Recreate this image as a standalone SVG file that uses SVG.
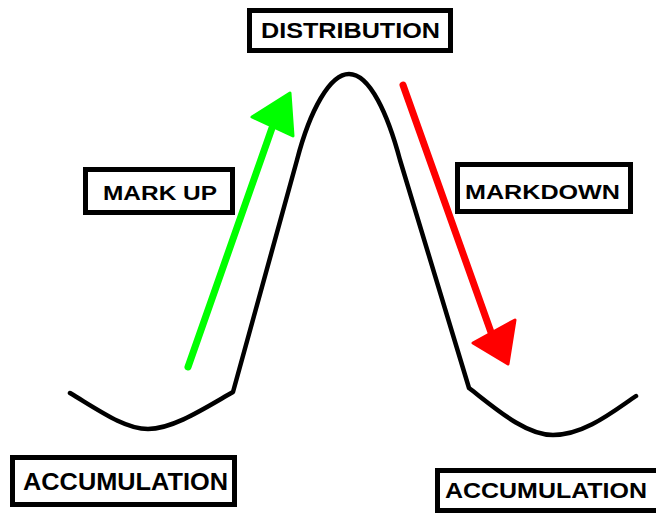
<svg xmlns="http://www.w3.org/2000/svg" width="656" height="516" viewBox="0 0 656 516">
<style>
.box{fill:#fff;stroke:#000;stroke-width:5}
.lbl{font-family:"Liberation Sans",Arial,sans-serif;font-weight:bold;fill:#000;text-anchor:start}
.curve{fill:none;stroke:#000;stroke-width:4.5;stroke-linejoin:round;stroke-linecap:round}
</style>
<rect width="656" height="516" fill="#fff"/>
<g id="connectors">
<path class="curve" d="M70,393 C100,411 125,429 148,429 C173,429 205,408 233,392 L297,160 C310,110 330,74 349,74 C370,74 388,115 400,160 L469,388 C495,408 525,435 553,435 C585,435 615,410 636,396"/>
<g id="markup-arrow">
<line x1="188" y1="367" x2="272" y2="128" stroke="#00ff00" stroke-width="7" stroke-linecap="round"/>
<polygon points="252,117 290,93 293,136" fill="#00ff00" stroke="#00ff00" stroke-width="3" stroke-linejoin="round"/>
</g>
<g id="markdown-arrow">
<line x1="403" y1="85" x2="492" y2="335" stroke="#ff0000" stroke-width="7" stroke-linecap="round"/>
<polygon points="473,343 515,320 508,364" fill="#ff0000" stroke="#ff0000" stroke-width="3" stroke-linejoin="round"/>
</g>
</g>
<g id="distribution">
<rect class="box" x="249.5" y="10.5" width="201" height="40"/>
<text class="lbl" x="261" y="38" font-size="22" textLength="179" lengthAdjust="spacingAndGlyphs">DISTRIBUTION</text>
</g>
<g id="markup">
<rect class="box" x="85.5" y="169.5" width="147" height="43"/>
<text class="lbl" x="103" y="200" font-size="21" textLength="114" lengthAdjust="spacingAndGlyphs">MARK UP</text>
</g>
<g id="markdown">
<rect class="box" x="457.5" y="164.5" width="173" height="47"/>
<text class="lbl" x="465" y="199" font-size="20" textLength="155" lengthAdjust="spacingAndGlyphs">MARKDOWN</text>
</g>
<g id="accumulation-left">
<rect class="box" x="12.5" y="457.5" width="222" height="47"/>
<text class="lbl" x="23" y="490" font-size="23" textLength="205" lengthAdjust="spacingAndGlyphs">ACCUMULATION</text>
</g>
<g id="accumulation-right">
<rect class="box" x="437.5" y="470.5" width="225" height="40"/>
<text class="lbl" x="445" y="498" font-size="22" textLength="202" lengthAdjust="spacingAndGlyphs">ACCUMULATION</text>
</g>
</svg>
